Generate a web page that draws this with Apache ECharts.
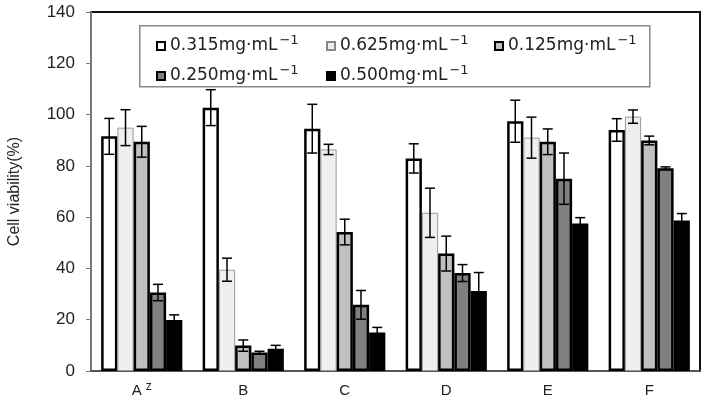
<!DOCTYPE html>
<html>
<head>
<meta charset="utf-8">
<script src="https://cdn.jsdelivr.net/npm/echarts@6/dist/echarts.min.js"></script>
<style>html,body{margin:0;padding:0;background:#fff}#c{width:707px;height:411px}</style>
</head>
<body>
<div id="c"></div>
<script>
const categories = ['A', 'B', 'C', 'D', 'E', 'F'];
const categorySup = ['z', '', '', '', '', ''];
const seriesNames = ['0.315mg·mL', '0.625mg·mL', '0.125mg·mL', '0.250mg·mL', '0.500mg·mL'];
const v0315 = [91.5, 102.7, 94.5, 82.9, 97.4, 94.0];
const e0315 = [7, 7, 9.5, 5.7, 8.2, 4.4];
const v0625 = [94.9, 39.5, 86.4, 61.7, 91.0, 99.2];
const e0625 = [7, 4.5, 2, 9.6, 8, 2.6];
const v0125 = [89.4, 9.9, 54.2, 45.8, 89.4, 89.9];
const e0125 = [6, 2.2, 5, 6.8, 5, 1.7];
const v0250 = [30.6, 7.2, 25.8, 38.2, 75.0, 79.1];
const e0250 = [3.2, 0.5, 5.6, 3.3, 10, 0.5];
const v0500 = [19.9, 8.7, 15.0, 31.2, 57.5, 58.7];
const e0500 = [2, 1.3, 2, 7.2, 2.3, 2.7];
const yTicks = [0, 20, 40, 60, 80, 100, 120, 140];

const values = [v0315, v0625, v0125, v0250, v0500];
const errors = [e0315, e0625, e0125, e0250, e0500];
const fills = ['#ffffff', '#efefef', '#c0c0c0', '#808080', '#000000'];
const borders = ['#000', '#999', '#000', '#000', '#000'];
const bw = [2.5, 1, 2.5, 2.5, 2];

const chart = echarts.init(document.getElementById('c'));
const nS = values.length;
const catGap = 0.2;

const series = [];
values.forEach((vals, i) => {
  series.push({
    name: seriesNames[i],
    type: 'bar',
    data: vals,
    barGap: '0%',
    barCategoryGap: (catGap * 100) + '%',
    itemStyle: { color: fills[i], borderColor: borders[i], borderWidth: bw[i] },
    z: 2
  });
});
values.forEach((vals, i) => {
  series.push({
    type: 'custom',
    z: 5,
    silent: true,
    data: vals.map((v, k) => [k, v, errors[i][k]]),
    renderItem: function (params, api) {
      const k = api.value(0), v = api.value(1), e = api.value(2);
      const catW = api.size([1, 0])[0];
      const barW = catW * (1 - catGap) / nS;
      const center = api.coord([k, v]);
      const x = center[0] + (i - (nS - 1) / 2) * barW;
      const top = api.coord([k, v + e])[1];
      const bot = api.coord([k, v - e])[1];
      const cap = 5;
      const st = { stroke: '#000', lineWidth: 1.5 };
      return { type: 'group', children: [
        { type: 'line', shape: { x1: x, y1: top, x2: x, y2: bot }, style: st },
        { type: 'line', shape: { x1: x - cap, y1: top, x2: x + cap, y2: top }, style: st },
        { type: 'line', shape: { x1: x - cap, y1: bot, x2: x + cap, y2: bot }, style: st }
      ]};
    }
  });
});

const legendPos = [[156, 34], [326, 34], [494, 34], [156, 64], [326, 64]];
const legends = seriesNames.map((n, i) => ({
  data: [n],
  left: legendPos[i][0],
  top: legendPos[i][1],
  itemWidth: 8,
  itemHeight: 8,
  icon: 'rect',
  padding: 0,
  selectedMode: false,
  itemStyle: { borderColor: borders[i] === '#999' ? '#888' : '#000', borderWidth: 2 },
  formatter: function (name) { return '{a|' + name + '}{s|−1}'; },
  textStyle: {
    rich: {
      a: { fontFamily: 'DejaVu Sans', fontSize: 17, color: '#222', lineHeight: 24 },
      s: { fontFamily: 'DejaVu Sans', fontSize: 13, color: '#222', verticalAlign: 'top', padding: [0, 0, 0, 2] }
    }
  }
}));

chart.setOption({
  animation: false,
  backgroundColor: '#fff',
  graphic: [{
    type: 'rect', z: 3, left: 139, top: 25,
    shape: { width: 510, height: 61 },
    style: { fill: '#fff', stroke: '#888', lineWidth: 1.5 }
  }],
  legend: legends,
  grid: { left: 91, right: 7, top: 12, bottom: 40, show: true, borderColor: '#111', borderWidth: 2, backgroundColor: 'transparent', containLabel: false, outerBoundsMode: 'none' },
  xAxis: {
    type: 'category',
    data: categories,
    axisLine: { lineStyle: { color: '#555', width: 2 } },
    axisTick: { show: false },
    axisLabel: {
      margin: 10,
      formatter: function (val, idx) {
        const sp = categorySup[idx];
        return sp ? '{m|' + val + ' }{s|' + sp + '}' : '{m|' + val + '}';
      },
      rich: {
        m: { fontFamily: 'Liberation Sans', fontSize: 15, color: '#222', lineHeight: 20 },
        s: { fontFamily: 'Liberation Sans', fontSize: 12, color: '#222', verticalAlign: 'top' }
      }
    }
  },
  yAxis: {
    type: 'value',
    min: 0, max: 140, interval: 20,
    name: 'Cell viability(%)',
    nameLocation: 'middle',
    nameGap: 68,
    nameTextStyle: { fontFamily: 'Liberation Sans', fontSize: 16, color: '#222' },
    axisLine: { show: true, lineStyle: { color: '#777', width: 2 } },
    axisTick: { show: true, inside: false, length: 5, lineStyle: { color: '#777' } },
    splitLine: { show: false },
    axisLabel: {
      margin: 16,
      fontFamily: 'Liberation Sans', fontSize: 17, color: '#222',
      formatter: function (v) { return yTicks.indexOf(v) >= 0 ? String(v) : ''; }
    }
  },
  series: series
});
</script>
</body>
</html>
